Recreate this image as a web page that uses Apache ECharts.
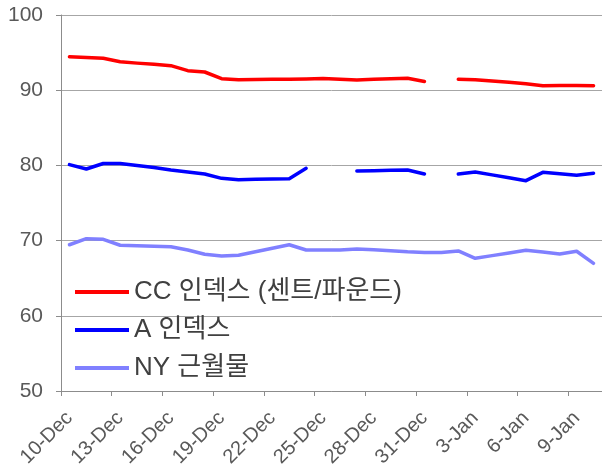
<!DOCTYPE html>
<html>
<head>
<meta charset="utf-8">
<script src="https://cdn.jsdelivr.net/npm/echarts@6/dist/echarts.min.js"></script>
<style>
  html, body { margin: 0; padding: 0; background: #fff; }
  #chart { width: 602px; height: 475px; }
</style>
</head>
<body>
<div id="chart"></div>
<script>
// one category per day, 10-Dec .. 10-Jan
const days = [
  '10-Dec', '11-Dec', '12-Dec', '13-Dec', '14-Dec', '15-Dec', '16-Dec', '17-Dec',
  '18-Dec', '19-Dec', '20-Dec', '21-Dec', '22-Dec', '23-Dec', '24-Dec', '25-Dec',
  '26-Dec', '27-Dec', '28-Dec', '29-Dec', '30-Dec', '31-Dec', '1-Jan', '2-Jan',
  '3-Jan', '4-Jan', '5-Jan', '6-Jan', '7-Jan', '8-Jan', '9-Jan', '10-Jan'
];
const seriesNames = ['CC 인덱스 (센트/파운드)', 'A 인덱스', 'NY 근월물'];

// null = no quote (line breaks there)
const ccIndex = [
  94.45, 94.35, 94.24, 93.79, 93.6, 93.45, 93.26, 92.6,
  92.42, 91.53, 91.4, 91.42, 91.44, 91.46, 91.49, 91.56,
  91.45, 91.36, 91.44, 91.52, 91.6, 91.16, null, 91.44,
  91.38, 91.22, 91.06, 90.86, 90.6, 90.62, 90.62, 90.58
];
const aIndex = [
  80.1, 79.52, 80.25, 80.25, 79.99, 79.72, 79.39, 79.12,
  78.86, 78.28, 78.1, 78.15, 78.19, 78.24, 79.61, null,
  null, 79.26, 79.3, 79.35, 79.39, 78.86, null, 78.86,
  79.12, 78.74, 78.35, 77.97, 79.08, 78.88, 78.68, 78.95
];
const nyNearby = [
  69.45, 70.25, 70.17, 69.38, 69.31, 69.26, 69.19, 68.75,
  68.18, 67.95, 68.05, 68.51, 68.99, 69.45, 68.75, 68.75,
  68.75, 68.88, 68.78, 68.66, 68.51, 68.42, 68.42, 68.63,
  67.65, 68.0, 68.35, 68.72, 68.48, 68.22, 68.59, 66.98
];
const colors = ['#ff0000', '#0000ff', '#8080ff'];

// latin glyphs from Liberation Sans, hangul falls back to Noto CJK KR
const font = '"Liberation Sans", "Noto Sans CJK KR", sans-serif';
const chart = echarts.init(document.getElementById('chart'), null, { renderer: 'canvas' });

function lineSeries(name, data, color) {
  return {
    name: name,
    type: 'line',
    data: data,
    showSymbol: false,
    symbol: 'none',
    connectNulls: false,
    lineStyle: { color: color, width: 3.5, cap: 'round', join: 'round' },
    itemStyle: { color: color },
    emphasis: { disabled: true },
    animation: false
  };
}

chart.setOption({
  animation: false,
  textStyle: { fontFamily: font },
  grid: { left: 61, top: 15, bottom: 84, width: 547, containLabel: false },
  legend: {
    orient: 'vertical',
    left: 75,
    top: 278,
    padding: 0,
    icon: 'rect',
    itemWidth: 54,
    itemHeight: 4,
    itemGap: 10,
    selectedMode: false,
    textStyle: { fontSize: 26, color: '#404040', fontFamily: font, lineHeight: 28 },
    data: seriesNames
  },
  xAxis: {
    type: 'category',
    data: days,
    boundaryGap: true,
    axisLine: { lineStyle: { color: '#8c8c8c', width: 1 } },
    axisTick: { show: true, interval: 2, length: 5, lineStyle: { color: '#8c8c8c' } },
    axisLabel: {
      interval: 2,
      rotate: 45,
      margin: 24,
      fontSize: 20,
      color: '#595959',
      fontFamily: font
    },
    splitLine: { show: false }
  },
  yAxis: {
    type: 'value',
    min: 50,
    max: 100,
    interval: 10,
    axisLine: { show: true, lineStyle: { color: '#8c8c8c', width: 1 } },
    axisTick: { show: true, length: 5, lineStyle: { color: '#8c8c8c' } },
    axisLabel: { fontSize: 21, color: '#595959', margin: 18, fontFamily: font },
    splitLine: { lineStyle: { color: '#a6a6a6', width: 1 } }
  },
  series: [
    lineSeries(seriesNames[0], ccIndex, colors[0]),
    lineSeries(seriesNames[1], aIndex, colors[1]),
    lineSeries(seriesNames[2], nyNearby, colors[2])
  ]
});
</script>
</body>
</html>
